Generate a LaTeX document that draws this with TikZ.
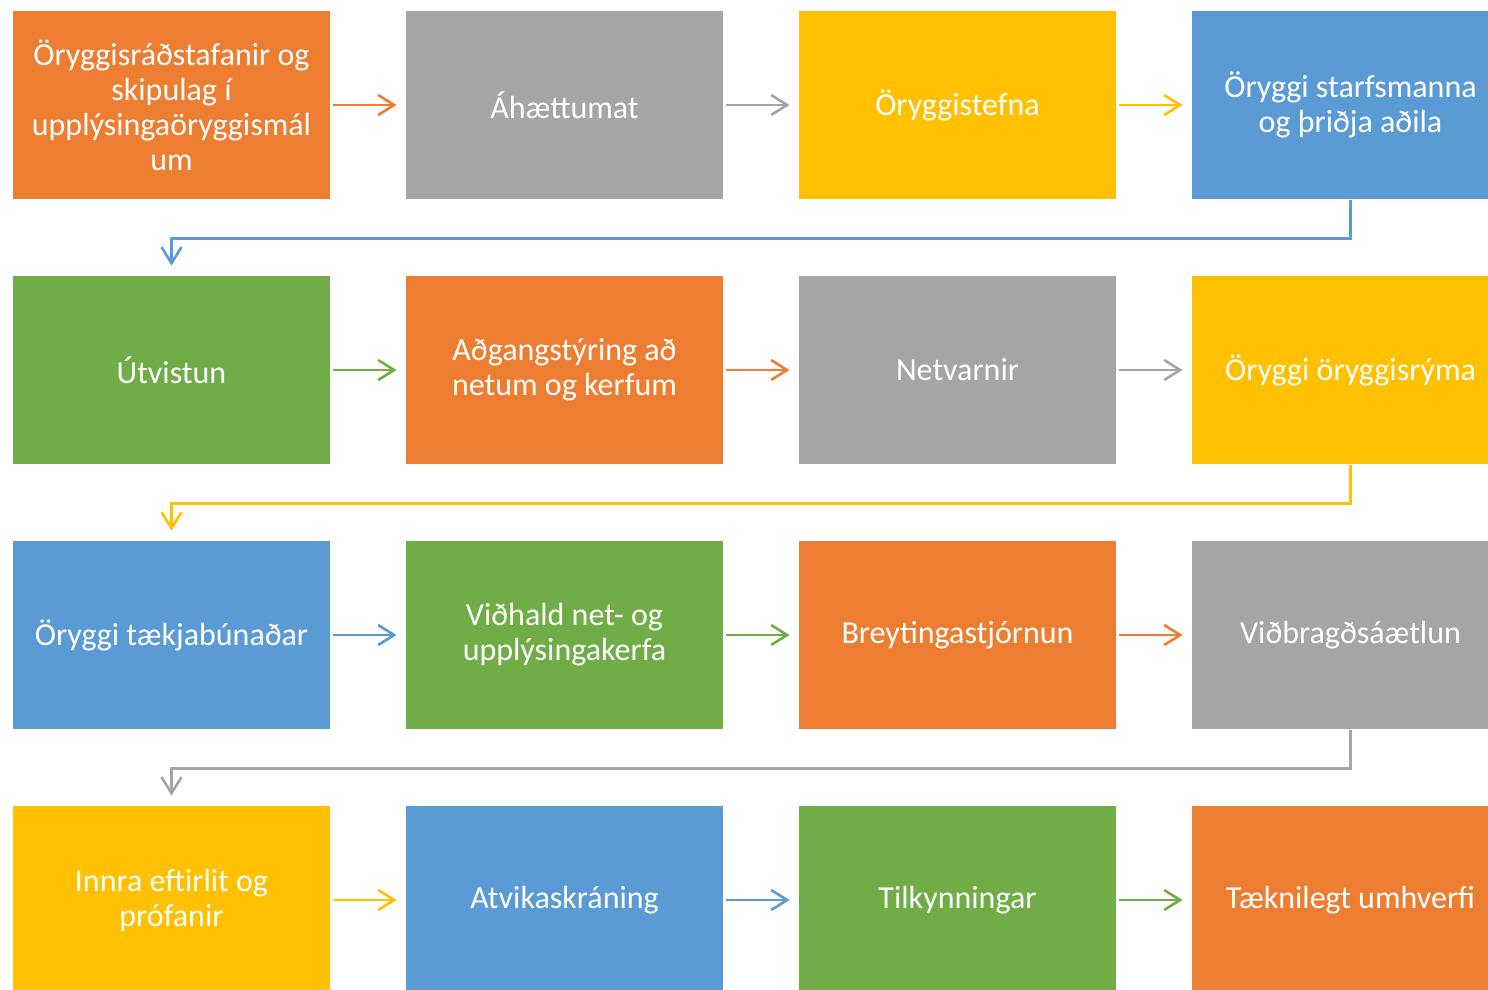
\documentclass[tikz,border=0pt]{standalone}
\usepackage{fontspec}
\setmainfont{Carlito}
\usetikzlibrary{arrows.meta}
\definecolor{cOrange}{HTML}{ED7D31}
\definecolor{cGray}{HTML}{A5A5A5}
\definecolor{cYellow}{HTML}{FFC000}
\definecolor{cBlue}{HTML}{5B9BD5}
\definecolor{cGreen}{HTML}{70AD47}

\begin{document}
\begin{tikzpicture}[>={Straight Barb[length=8pt,width=10pt]}]
        \tikzstyle{box} = [rectangle, minimum height=94pt, minimum width=158.5pt,
            inner sep=0pt, text=white, align=center,
            font=\fontsize{16}{17.5}\selectfont, node distance=196.5pt]
        \tikzstyle{boxEdge} = [->, line width=1.3pt, shorten <=1.5pt, shorten >=4.5pt];
        \tikzstyle{turnEdge} = [->, line width=1.3pt, shorten <=0.5pt, shorten >=5pt];
        \useasboundingbox (0,0) rectangle (744pt,-495pt);
        \clip (0,0) rectangle (744pt,-495pt);

        % first row
        \node[box, fill=cOrange] (nodeA) at (85.75pt,-52.5pt)
            {Öryggisráðstafanir og\\skipulag í\\upplýsingaöryggismál\\um};
        \node[box, fill=cGray, right of=nodeA] (nodeB) {Áhættumat};
        \node[box, fill=cYellow, right of=nodeB] (nodeC) {Öryggistefna};
        \node[box, fill=cBlue, right of=nodeC] (nodeD) {Öryggi starfsmanna\\og þriðja aðila};

        % second row
        \node[box, fill=cGreen, below of=nodeA, node distance=132.5pt] (nodeE) {Útvistun};
        \node[box, fill=cOrange, right of=nodeE] (nodeF) {Aðgangstýring að\\netum og kerfum};
        \node[box, fill=cGray, right of=nodeF] (nodeG) {Netvarnir};
        \node[box, fill=cYellow, right of=nodeG] (nodeH) {Öryggi öryggisrýma};

        % third row
        \node[box, fill=cBlue, below of=nodeE, node distance=132.5pt] (nodeI) {Öryggi tækjabúnaðar};
        \node[box, fill=cGreen, right of=nodeI] (nodeJ) {Viðhald net- og\\upplýsingakerfa};
        \node[box, fill=cOrange, right of=nodeJ] (nodeK) {Breytingastjórnun};
        \node[box, fill=cGray, right of=nodeK] (nodeL) {Viðbragðsáætlun};

        % fourth row
        \node[box, fill=cYellow, below of=nodeI, node distance=132.5pt] (nodeM) {Innra eftirlit og\\prófanir};
        \node[box, fill=cBlue, right of=nodeM] (nodeN) {Atvikaskráning};
        \node[box, fill=cGreen, right of=nodeN] (nodeO) {Tilkynningar};
        \node[box, fill=cOrange, right of=nodeO] (nodeP) {Tæknilegt umhverfi};

        \draw[boxEdge, cOrange] (nodeA.east) -- (nodeB.west);
        \draw[boxEdge, cGray] (nodeB.east) -- (nodeC.west);
        \draw[boxEdge, cYellow] (nodeC.east) -- (nodeD.west);
        \draw[turnEdge, cBlue] (nodeD.south) -- ++(0,-19.5pt) -| (nodeE.north);

        \draw[boxEdge, cGreen] (nodeE.east) -- (nodeF.west);
        \draw[boxEdge, cOrange] (nodeF.east) -- (nodeG.west);
        \draw[boxEdge, cGray] (nodeG.east) -- (nodeH.west);
        \draw[turnEdge, cYellow] (nodeH.south) -- ++(0,-19.5pt) -| (nodeI.north);

        \draw[boxEdge, cBlue] (nodeI.east) -- (nodeJ.west);
        \draw[boxEdge, cGreen] (nodeJ.east) -- (nodeK.west);
        \draw[boxEdge, cOrange] (nodeK.east) -- (nodeL.west);
        \draw[turnEdge, cGray] (nodeL.south) -- ++(0,-19.5pt) -| (nodeM.north);

        \draw[boxEdge, cYellow] (nodeM.east) -- (nodeN.west);
        \draw[boxEdge, cBlue] (nodeN.east) -- (nodeO.west);
        \draw[boxEdge, cGreen] (nodeO.east) -- (nodeP.west);
    \end{tikzpicture}
\end{document}
